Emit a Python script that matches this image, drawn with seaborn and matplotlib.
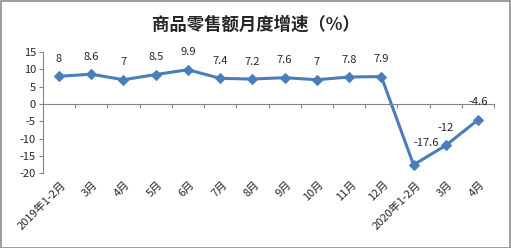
import matplotlib
matplotlib.use("Agg")
import matplotlib.pyplot as plt
import seaborn as sns
import pandas as pd
from matplotlib.patches import Rectangle

categories = ["2019年1-2月", "3月", "4月", "5月", "6月", "7月", "8月", "9月",
              "10月", "11月", "12月", "2020年1-2月", "3月", "4月"]
values = [8, 8.6, 7, 8.5, 9.9, 7.4, 7.2, 7.6, 7, 7.8, 7.9, -17.6, -12, -4.6]
value_labels = ["8", "8.6", "7", "8.5", "9.9", "7.4", "7.2", "7.6", "7", "7.8", "7.9",
                "-17.6", "-12", "-4.6"]
yticks = [15, 10, 5, 0, -5, -10, -15, -20]
title = "商品零售额月度增速（%）"

sns.set_style("white")
plt.rcParams['font.family'] = ['Noto Sans CJK SC', 'DejaVu Sans']

df = pd.DataFrame({"idx": range(len(values)), "value": values})

fig = plt.figure(figsize=(5.11, 2.48), dpi=100)
ax = fig.add_axes([0.084, 0.302, 0.883, 0.488])

color = "#4A7EBB"
sns.lineplot(data=df, x="idx", y="value", ax=ax, color=color, linewidth=2.2,
             marker="D", markersize=5.5, markeredgecolor=color, markerfacecolor=color)

ax.set_xlim(-0.5, len(values) - 0.5)
ax.set_ylim(-20, 15)
ax.set_yticks(yticks)
ax.set_yticklabels([str(t) for t in yticks], fontsize=8)
ax.set_xlabel("")
ax.set_ylabel("")

for s in ["top", "right"]:
    ax.spines[s].set_visible(False)
ax.spines["left"].set_color("#868686")
ax.spines["left"].set_linewidth(0.8)
ax.spines["bottom"].set_position(("data", 0))
ax.spines["bottom"].set_color("#868686")
ax.spines["bottom"].set_linewidth(0.8)

ax.tick_params(axis="y", direction="out", length=3, width=0.8, color="#868686",
               pad=2, left=True)
ax.set_xticks([i + 0.5 for i in range(len(values))])
ax.set_xticklabels([])
ax.tick_params(axis="x", direction="out", length=3, width=0.8, color="#868686",
               bottom=True)

xt = ax.get_xaxis_transform()
for i, lab in enumerate(categories):
    ax.text(i + 0.05, -0.05, lab, transform=xt, rotation=45, ha="right", va="top",
            fontsize=8, rotation_mode="anchor")

for i, (v, lab) in enumerate(zip(values, value_labels)):
    dx, dy = (0, 12.5)
    if i == 11:
        dx, dy = (9, 16)
    ax.annotate(lab, (i, v), xytext=(dx, dy), textcoords="offset points",
                ha="center", va="center", fontsize=8)

fig.text(0.5, 0.9, title, ha="center", va="center", fontsize=12.5,
         fontweight="bold")

fig.add_artist(Rectangle((0.001, 0.002), 0.997, 0.995, transform=fig.transFigure,
                         fill=False, edgecolor="#8c8c8c", linewidth=1.2))

fig.savefig("out.png", dpi=100)
